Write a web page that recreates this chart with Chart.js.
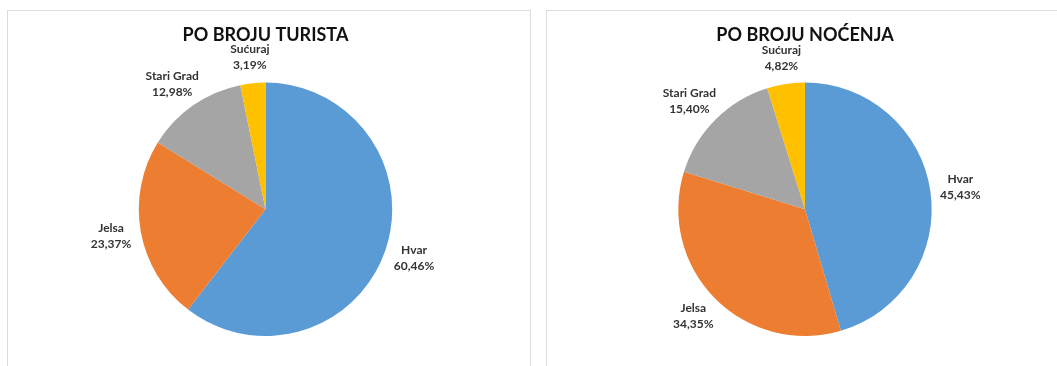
<!DOCTYPE html>
<html>
<head>
<meta charset="utf-8">
<script src="https://cdn.jsdelivr.net/npm/chart.js@4/dist/chart.umd.min.js"></script>
<style>
  html, body { margin: 0; padding: 0; background: #fff; width: 1057px; height: 366px; overflow: hidden; }
  .panel { position: absolute; top: 10px; height: 360px; background: #fff; border: 1px solid #dcdcdc; box-sizing: border-box; }
  #p1 { left: 7px; width: 524px; }
  #p2 { left: 546px; width: 520px; }
  canvas { display: block; }
</style>
</head>
<body>
<div class="panel" id="p1"><canvas id="chart1"></canvas></div>
<div class="panel" id="p2"><canvas id="chart2"></canvas></div>
<script>
const places = ['Hvar', 'Jelsa', 'Stari Grad', 'Sućuraj'];
const touristShare = [60.46, 23.37, 12.98, 3.19];
const nightShare = [45.43, 34.35, 15.40, 4.82];
const sliceColors = ['#5B9BD5', '#ED7D31', '#A5A5A5', '#FFC000'];

const fmt = v => v.toFixed(2).replace('.', ',') + '%';

// labels outside the pie, name on top and share below
const outLabels = {
  id: 'outLabels',
  afterDatasetsDraw(chart) {
    const ctx = chart.ctx;
    const meta = chart.getDatasetMeta(0);
    const vals = chart.data.datasets[0].data;
    ctx.save();
    ctx.font = 'bold 12px Lato, "Open Sans", sans-serif';
    ctx.fillStyle = '#333';
    ctx.textAlign = 'center';
    ctx.textBaseline = 'middle';
    meta.data.forEach((arc, i) => {
      const p = arc.getProps(['x', 'y', 'startAngle', 'endAngle', 'outerRadius'], true);
      const mid = (p.startAngle + p.endAngle) / 2;
      const lines = [chart.data.labels[i], fmt(vals[i])];
      const w = Math.max(...lines.map(t => ctx.measureText(t).width));
      const h = 32;
      const cos = Math.cos(mid), sin = Math.sin(mid);
      const ax = p.x + cos * (p.outerRadius + 10);
      const ay = p.y + sin * (p.outerRadius + 10);
      const cx = ax + cos * w / 2;
      const cy = ay + sin * h / 2;
      ctx.fillText(lines[0], cx, cy - 8);
      ctx.fillText(lines[1], cx, cy + 8);
    });
    ctx.restore();
  }
};

function makePie(id, title, values, padRight) {
  new Chart(document.getElementById(id).getContext('2d'), {
    type: 'pie',
    data: {
      labels: places,
      datasets: [
        {
          data: values,
          backgroundColor: sliceColors,
          borderWidth: 0,
        },
      ],
    },
    options: {
      responsive: true,
      maintainAspectRatio: false,
      animation: false,
      layout: { padding: { top: 0, bottom: 33, left: 0, right: padRight } },
      plugins: {
        legend: { display: false },
        tooltip: { enabled: false },
        title: {
          display: true,
          text: title,
          color: '#111',
          font: { family: 'Lato, "Open Sans", sans-serif', size: 18, weight: 'bold' },
          padding: { top: 13, bottom: 37 },
        },
      },
    },
    plugins: [outLabels],
  });
}

makePie('chart1', 'PO BROJU TURISTA', touristShare, 7);
makePie('chart2', 'PO BROJU NOĆENJA', nightShare, 2);
</script>
</body>
</html>
